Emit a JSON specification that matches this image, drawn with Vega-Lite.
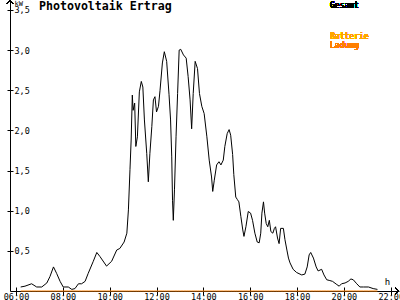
{
  "$schema": "https://vega.github.io/schema/vega-lite/v6.json",
  "width": 389,
  "height": 291,
  "autosize": {"type": "none"},
  "padding": {"left": 10, "top": 0, "right": 1, "bottom": 9},
  "background": "white",
  "title": {"text": "Photovoltaik Ertrag", "anchor": "start", "frame": "group", "orient": "top", "offset": 0, "baseline": "alphabetic", "dx": 29, "dy": 24, "font": "DejaVu Sans Mono", "fontSize": 11.6, "fontWeight": "bold", "color": "black"},
  "config": {
    "view": {"stroke": null},
    "axis": {"domainColor": "black", "tickColor": "black", "labelColor": "black", "labelFont": "DejaVu Sans Mono", "labelFontSize": 8.5, "grid": false, "domainWidth": 1, "tickWidth": 1, "titleColor": "black"}
  },
  "data": {
    "format": {"parse": {"t": "date:'%H:%M'"}},
    "values": [
      {"t": "06:12", "gesamt": 0.05, "ladung": 0}, {"t": "06:23", "gesamt": 0.06, "ladung": 0}, {"t": "06:40", "gesamt": 0.09, "ladung": 0}, {"t": "06:53", "gesamt": 0.05, "ladung": 0},
      {"t": "07:06", "gesamt": 0.05, "ladung": 0}, {"t": "07:19", "gesamt": 0.10, "ladung": 0}, {"t": "07:27", "gesamt": 0.18, "ladung": 0}, {"t": "07:36", "gesamt": 0.30, "ladung": 0},
      {"t": "07:44", "gesamt": 0.22, "ladung": 0}, {"t": "07:53", "gesamt": 0.12, "ladung": 0}, {"t": "08:01", "gesamt": 0.05, "ladung": 0}, {"t": "08:14", "gesamt": 0.05, "ladung": 0},
      {"t": "08:23", "gesamt": 0.02, "ladung": 0}, {"t": "08:31", "gesamt": 0.03, "ladung": 0}, {"t": "08:40", "gesamt": 0.09, "ladung": 0}, {"t": "08:48", "gesamt": 0.09, "ladung": 0},
      {"t": "08:57", "gesamt": 0.12, "ladung": 0}, {"t": "09:05", "gesamt": 0.22, "ladung": 0}, {"t": "09:18", "gesamt": 0.37, "ladung": 0}, {"t": "09:27", "gesamt": 0.48, "ladung": 0},
      {"t": "09:35", "gesamt": 0.43, "ladung": 0}, {"t": "09:52", "gesamt": 0.31, "ladung": 0}, {"t": "10:05", "gesamt": 0.37, "ladung": 0}, {"t": "10:18", "gesamt": 0.51, "ladung": 0},
      {"t": "10:26", "gesamt": 0.53, "ladung": 0}, {"t": "10:37", "gesamt": 0.61, "ladung": 0}, {"t": "10:44", "gesamt": 0.72, "ladung": 0}, {"t": "10:48", "gesamt": 1.01, "ladung": 0},
      {"t": "10:52", "gesamt": 1.51, "ladung": 0}, {"t": "10:55", "gesamt": 1.88, "ladung": 0}, {"t": "10:58", "gesamt": 2.44, "ladung": 0}, {"t": "11:00", "gesamt": 2.25, "ladung": 0},
      {"t": "11:04", "gesamt": 2.34, "ladung": 0}, {"t": "11:07", "gesamt": 1.80, "ladung": 0}, {"t": "11:11", "gesamt": 1.92, "ladung": 0}, {"t": "11:16", "gesamt": 2.48, "ladung": 0},
      {"t": "11:21", "gesamt": 2.61, "ladung": 0}, {"t": "11:25", "gesamt": 2.54, "ladung": 0}, {"t": "11:29", "gesamt": 2.13, "ladung": 0}, {"t": "11:35", "gesamt": 1.71, "ladung": 0},
      {"t": "11:39", "gesamt": 1.36, "ladung": 0}, {"t": "11:43", "gesamt": 1.71, "ladung": 0}, {"t": "11:48", "gesamt": 2.05, "ladung": 0}, {"t": "11:52", "gesamt": 2.38, "ladung": 0},
      {"t": "11:56", "gesamt": 2.42, "ladung": 0}, {"t": "12:00", "gesamt": 2.23, "ladung": 0}, {"t": "12:05", "gesamt": 2.30, "ladung": 0}, {"t": "12:09", "gesamt": 2.50, "ladung": 0},
      {"t": "12:15", "gesamt": 2.84, "ladung": 0}, {"t": "12:20", "gesamt": 2.98, "ladung": 0}, {"t": "12:26", "gesamt": 2.86, "ladung": 0}, {"t": "12:32", "gesamt": 2.45, "ladung": 0},
      {"t": "12:36", "gesamt": 2.13, "ladung": 0}, {"t": "12:39", "gesamt": 1.67, "ladung": 0}, {"t": "12:41", "gesamt": 1.13, "ladung": 0}, {"t": "12:43", "gesamt": 0.88, "ladung": 0},
      {"t": "12:46", "gesamt": 1.26, "ladung": 0}, {"t": "12:50", "gesamt": 1.92, "ladung": 0}, {"t": "12:54", "gesamt": 2.46, "ladung": 0}, {"t": "12:58", "gesamt": 3.00, "ladung": 0},
      {"t": "13:02", "gesamt": 3.01, "ladung": 0}, {"t": "13:09", "gesamt": 2.94, "ladung": 0}, {"t": "13:16", "gesamt": 2.90, "ladung": 0}, {"t": "13:21", "gesamt": 2.67, "ladung": 0},
      {"t": "13:26", "gesamt": 2.38, "ladung": 0}, {"t": "13:30", "gesamt": 2.02, "ladung": 0}, {"t": "13:34", "gesamt": 2.46, "ladung": 0}, {"t": "13:39", "gesamt": 2.86, "ladung": 0},
      {"t": "13:45", "gesamt": 2.77, "ladung": 0}, {"t": "13:50", "gesamt": 2.46, "ladung": 0}, {"t": "13:56", "gesamt": 2.30, "ladung": 0}, {"t": "14:02", "gesamt": 2.21, "ladung": 0},
      {"t": "14:09", "gesamt": 1.92, "ladung": 0}, {"t": "14:15", "gesamt": 1.63, "ladung": 0}, {"t": "14:21", "gesamt": 1.42, "ladung": 0}, {"t": "14:24", "gesamt": 1.24, "ladung": 0},
      {"t": "14:28", "gesamt": 1.38, "ladung": 0}, {"t": "14:34", "gesamt": 1.57, "ladung": 0}, {"t": "14:40", "gesamt": 1.61, "ladung": 0}, {"t": "14:45", "gesamt": 1.57, "ladung": 0},
      {"t": "14:51", "gesamt": 1.63, "ladung": 0}, {"t": "14:55", "gesamt": 1.80, "ladung": 0}, {"t": "15:01", "gesamt": 1.96, "ladung": 0}, {"t": "15:06", "gesamt": 2.01, "ladung": 0},
      {"t": "15:10", "gesamt": 1.94, "ladung": 0}, {"t": "15:15", "gesamt": 1.70, "ladung": 0}, {"t": "15:18", "gesamt": 1.45, "ladung": 0}, {"t": "15:23", "gesamt": 1.17, "ladung": 0},
      {"t": "15:27", "gesamt": 1.14, "ladung": 0}, {"t": "15:31", "gesamt": 1.11, "ladung": 0}, {"t": "15:36", "gesamt": 0.93, "ladung": 0}, {"t": "15:41", "gesamt": 0.76, "ladung": 0},
      {"t": "15:44", "gesamt": 0.68, "ladung": 0}, {"t": "15:49", "gesamt": 0.80, "ladung": 0}, {"t": "15:55", "gesamt": 0.99, "ladung": 0}, {"t": "16:01", "gesamt": 0.97, "ladung": 0},
      {"t": "16:06", "gesamt": 0.88, "ladung": 0}, {"t": "16:12", "gesamt": 0.72, "ladung": 0}, {"t": "16:18", "gesamt": 0.61, "ladung": 0}, {"t": "16:23", "gesamt": 0.60, "ladung": 0},
      {"t": "16:27", "gesamt": 0.72, "ladung": 0}, {"t": "16:30", "gesamt": 0.97, "ladung": 0}, {"t": "16:34", "gesamt": 1.11, "ladung": 0}, {"t": "16:37", "gesamt": 0.97, "ladung": 0},
      {"t": "16:41", "gesamt": 0.84, "ladung": 0}, {"t": "16:45", "gesamt": 0.80, "ladung": 0}, {"t": "16:49", "gesamt": 0.88, "ladung": 0}, {"t": "16:53", "gesamt": 0.74, "ladung": 0},
      {"t": "16:58", "gesamt": 0.72, "ladung": 0}, {"t": "17:02", "gesamt": 0.78, "ladung": 0}, {"t": "17:05", "gesamt": 0.80, "ladung": 0}, {"t": "17:10", "gesamt": 0.66, "ladung": 0},
      {"t": "17:14", "gesamt": 0.59, "ladung": 0}, {"t": "17:18", "gesamt": 0.78, "ladung": 0}, {"t": "17:25", "gesamt": 0.78, "ladung": 0}, {"t": "17:29", "gesamt": 0.64, "ladung": 0},
      {"t": "17:34", "gesamt": 0.51, "ladung": 0}, {"t": "17:38", "gesamt": 0.41, "ladung": 0}, {"t": "17:42", "gesamt": 0.35, "ladung": 0}, {"t": "17:50", "gesamt": 0.27, "ladung": 0},
      {"t": "17:59", "gesamt": 0.23, "ladung": 0}, {"t": "18:12", "gesamt": 0.20, "ladung": 0}, {"t": "18:20", "gesamt": 0.21, "ladung": 0}, {"t": "18:26", "gesamt": 0.30, "ladung": 0},
      {"t": "18:31", "gesamt": 0.45, "ladung": 0}, {"t": "18:35", "gesamt": 0.48, "ladung": 0}, {"t": "18:42", "gesamt": 0.41, "ladung": 0}, {"t": "18:49", "gesamt": 0.30, "ladung": 0},
      {"t": "18:54", "gesamt": 0.25, "ladung": 0}, {"t": "19:03", "gesamt": 0.27, "ladung": 0}, {"t": "19:09", "gesamt": 0.20, "ladung": 0}, {"t": "19:16", "gesamt": 0.14, "ladung": 0},
      {"t": "19:24", "gesamt": 0.13, "ladung": 0}, {"t": "19:31", "gesamt": 0.12, "ladung": 0}, {"t": "19:42", "gesamt": 0.08, "ladung": 0}, {"t": "19:48", "gesamt": 0.06, "ladung": 0},
      {"t": "19:54", "gesamt": 0.09, "ladung": 0}, {"t": "20:03", "gesamt": 0.10, "ladung": 0}, {"t": "20:11", "gesamt": 0.12, "ladung": 0}, {"t": "20:18", "gesamt": 0.15, "ladung": 0},
      {"t": "20:24", "gesamt": 0.14, "ladung": 0}, {"t": "20:33", "gesamt": 0.09, "ladung": 0}, {"t": "20:41", "gesamt": 0.05, "ladung": 0}, {"t": "20:50", "gesamt": 0.05, "ladung": 0},
      {"t": "21:03", "gesamt": 0.05, "ladung": 0}, {"t": "21:15", "gesamt": 0.03, "ladung": 0}, {"t": "21:26", "gesamt": 0.02, "ladung": 0}
    ]
  },
  "layer": [
    {
      "mark": {"type": "line", "color": "black", "strokeWidth": 1},
      "encoding": {
        "x": {"field": "t", "type": "temporal",
          "scale": {"domain": [{"year": 1900, "month": 1, "date": 1, "hours": 5, "minutes": 44, "seconds": 38}, {"year": 1900, "month": 1, "date": 1, "hours": 22, "minutes": 21, "seconds": 12}]},
          "axis": {"orient": "bottom", "format": "%H:%M", "tickSize": 4, "labelPadding": -3, "labelFlush": false, "labelOverlap": false,
            "values": [{"year": 1900, "month": 1, "date": 1, "hours": 6}, {"year": 1900, "month": 1, "date": 1, "hours": 8}, {"year": 1900, "month": 1, "date": 1, "hours": 10}, {"year": 1900, "month": 1, "date": 1, "hours": 12}, {"year": 1900, "month": 1, "date": 1, "hours": 14}, {"year": 1900, "month": 1, "date": 1, "hours": 16}, {"year": 1900, "month": 1, "date": 1, "hours": 18}, {"year": 1900, "month": 1, "date": 1, "hours": 20}, {"year": 1900, "month": 1, "date": 1, "hours": 22}],
            "title": "h", "titleX": 377, "titleY": -7, "titleAlign": "center", "titleBaseline": "alphabetic", "titleFont": "DejaVu Sans Mono", "titleFontSize": 9, "titleFontWeight": "normal"}},
        "y": {"field": "gesamt", "type": "quantitative",
          "scale": {"domain": [0, 3.624], "nice": false, "zero": true},
          "axis": {"orient": "left", "values": [0.5, 1, 1.5, 2, 2.5, 3, 3.5], "tickSize": 3, "labelAlign": "left", "labelPadding": -7, "labelBaseline": "middle", "labelFontSize": 8.5,
            "labelExpr": "replace(format(datum.value, '.1f'), '.', ',')",
            "title": "kW", "titleAngle": 0, "titleX": 4, "titleY": 5, "titleAlign": "left", "titleBaseline": "alphabetic", "titleFont": "DejaVu Sans Mono", "titleFontSize": 7, "titleFontWeight": "normal"}}
      }
    },
    {
      "mark": {"type": "line", "color": "#ff8000", "strokeWidth": 1},
      "encoding": {
        "x": {"field": "t", "type": "temporal",
          "axis": {"orient": "bottom", "tickSize": -4, "labels": false, "domain": false, "title": null,
            "values": [{"year": 1900, "month": 1, "date": 1, "hours": 6}, {"year": 1900, "month": 1, "date": 1, "hours": 8}, {"year": 1900, "month": 1, "date": 1, "hours": 10}, {"year": 1900, "month": 1, "date": 1, "hours": 12}, {"year": 1900, "month": 1, "date": 1, "hours": 14}, {"year": 1900, "month": 1, "date": 1, "hours": 16}, {"year": 1900, "month": 1, "date": 1, "hours": 18}, {"year": 1900, "month": 1, "date": 1, "hours": 20}, {"year": 1900, "month": 1, "date": 1, "hours": 22}]}},
        "y": {"field": "ladung", "type": "quantitative",
          "axis": {"orient": "left", "values": [0.5, 1, 1.5, 2, 2.5, 3, 3.5], "tickSize": -3, "labels": false, "domain": false, "title": null}}
      }
    },
    {
      "mark": {"type": "point", "shape": "M-1.6,-1.2L0,0L-1.6,1.2", "size": 25, "filled": false, "stroke": "black", "strokeWidth": 1, "opacity": 1},
      "encoding": {
        "x": {"datum": {"year": 1900, "month": 1, "date": 1, "hours": 22, "minutes": 21, "seconds": 12}, "type": "temporal", "axis": null},
        "y": {"datum": 0, "type": "quantitative", "axis": null}
      }
    },
    {
      "mark": {"type": "point", "shape": "M-1.2,1.6L0,0L1.2,1.6", "size": 25, "filled": false, "stroke": "black", "strokeWidth": 1, "opacity": 1},
      "encoding": {
        "x": {"datum": {"year": 1900, "month": 1, "date": 1, "hours": 5, "minutes": 44, "seconds": 38}, "type": "temporal", "axis": null},
        "y": {"datum": 3.624, "type": "quantitative", "axis": null}
      }
    },
    {
      "mark": {"type": "text", "text": "Gesamt", "align": "left", "baseline": "top", "font": "DejaVu Sans Mono", "fontSize": 8, "color": "black"},
      "encoding": {
        "x": {"datum": {"year": 1900, "month": 1, "date": 1, "hours": 19, "minutes": 24, "seconds": 30}, "type": "temporal", "axis": null},
        "y": {"datum": 3.6, "type": "quantitative", "axis": null}
      }
    },
    {
      "mark": {"type": "text", "text": "Batterie", "align": "left", "baseline": "top", "font": "DejaVu Sans Mono", "fontSize": 8, "color": "#ffa500"},
      "encoding": {
        "x": {"datum": {"year": 1900, "month": 1, "date": 1, "hours": 19, "minutes": 24, "seconds": 30}, "type": "temporal", "axis": null},
        "y": {"datum": 3.213, "type": "quantitative", "axis": null}
      }
    },
    {
      "mark": {"type": "text", "text": "Ladung", "align": "left", "baseline": "top", "font": "DejaVu Sans Mono", "fontSize": 8, "color": "#ff7f00"},
      "encoding": {
        "x": {"datum": {"year": 1900, "month": 1, "date": 1, "hours": 19, "minutes": 24, "seconds": 30}, "type": "temporal", "axis": null},
        "y": {"datum": 3.101, "type": "quantitative", "axis": null}
      }
    }
  ],
  "resolve": {"axis": {"x": "independent", "y": "independent"}}
}
